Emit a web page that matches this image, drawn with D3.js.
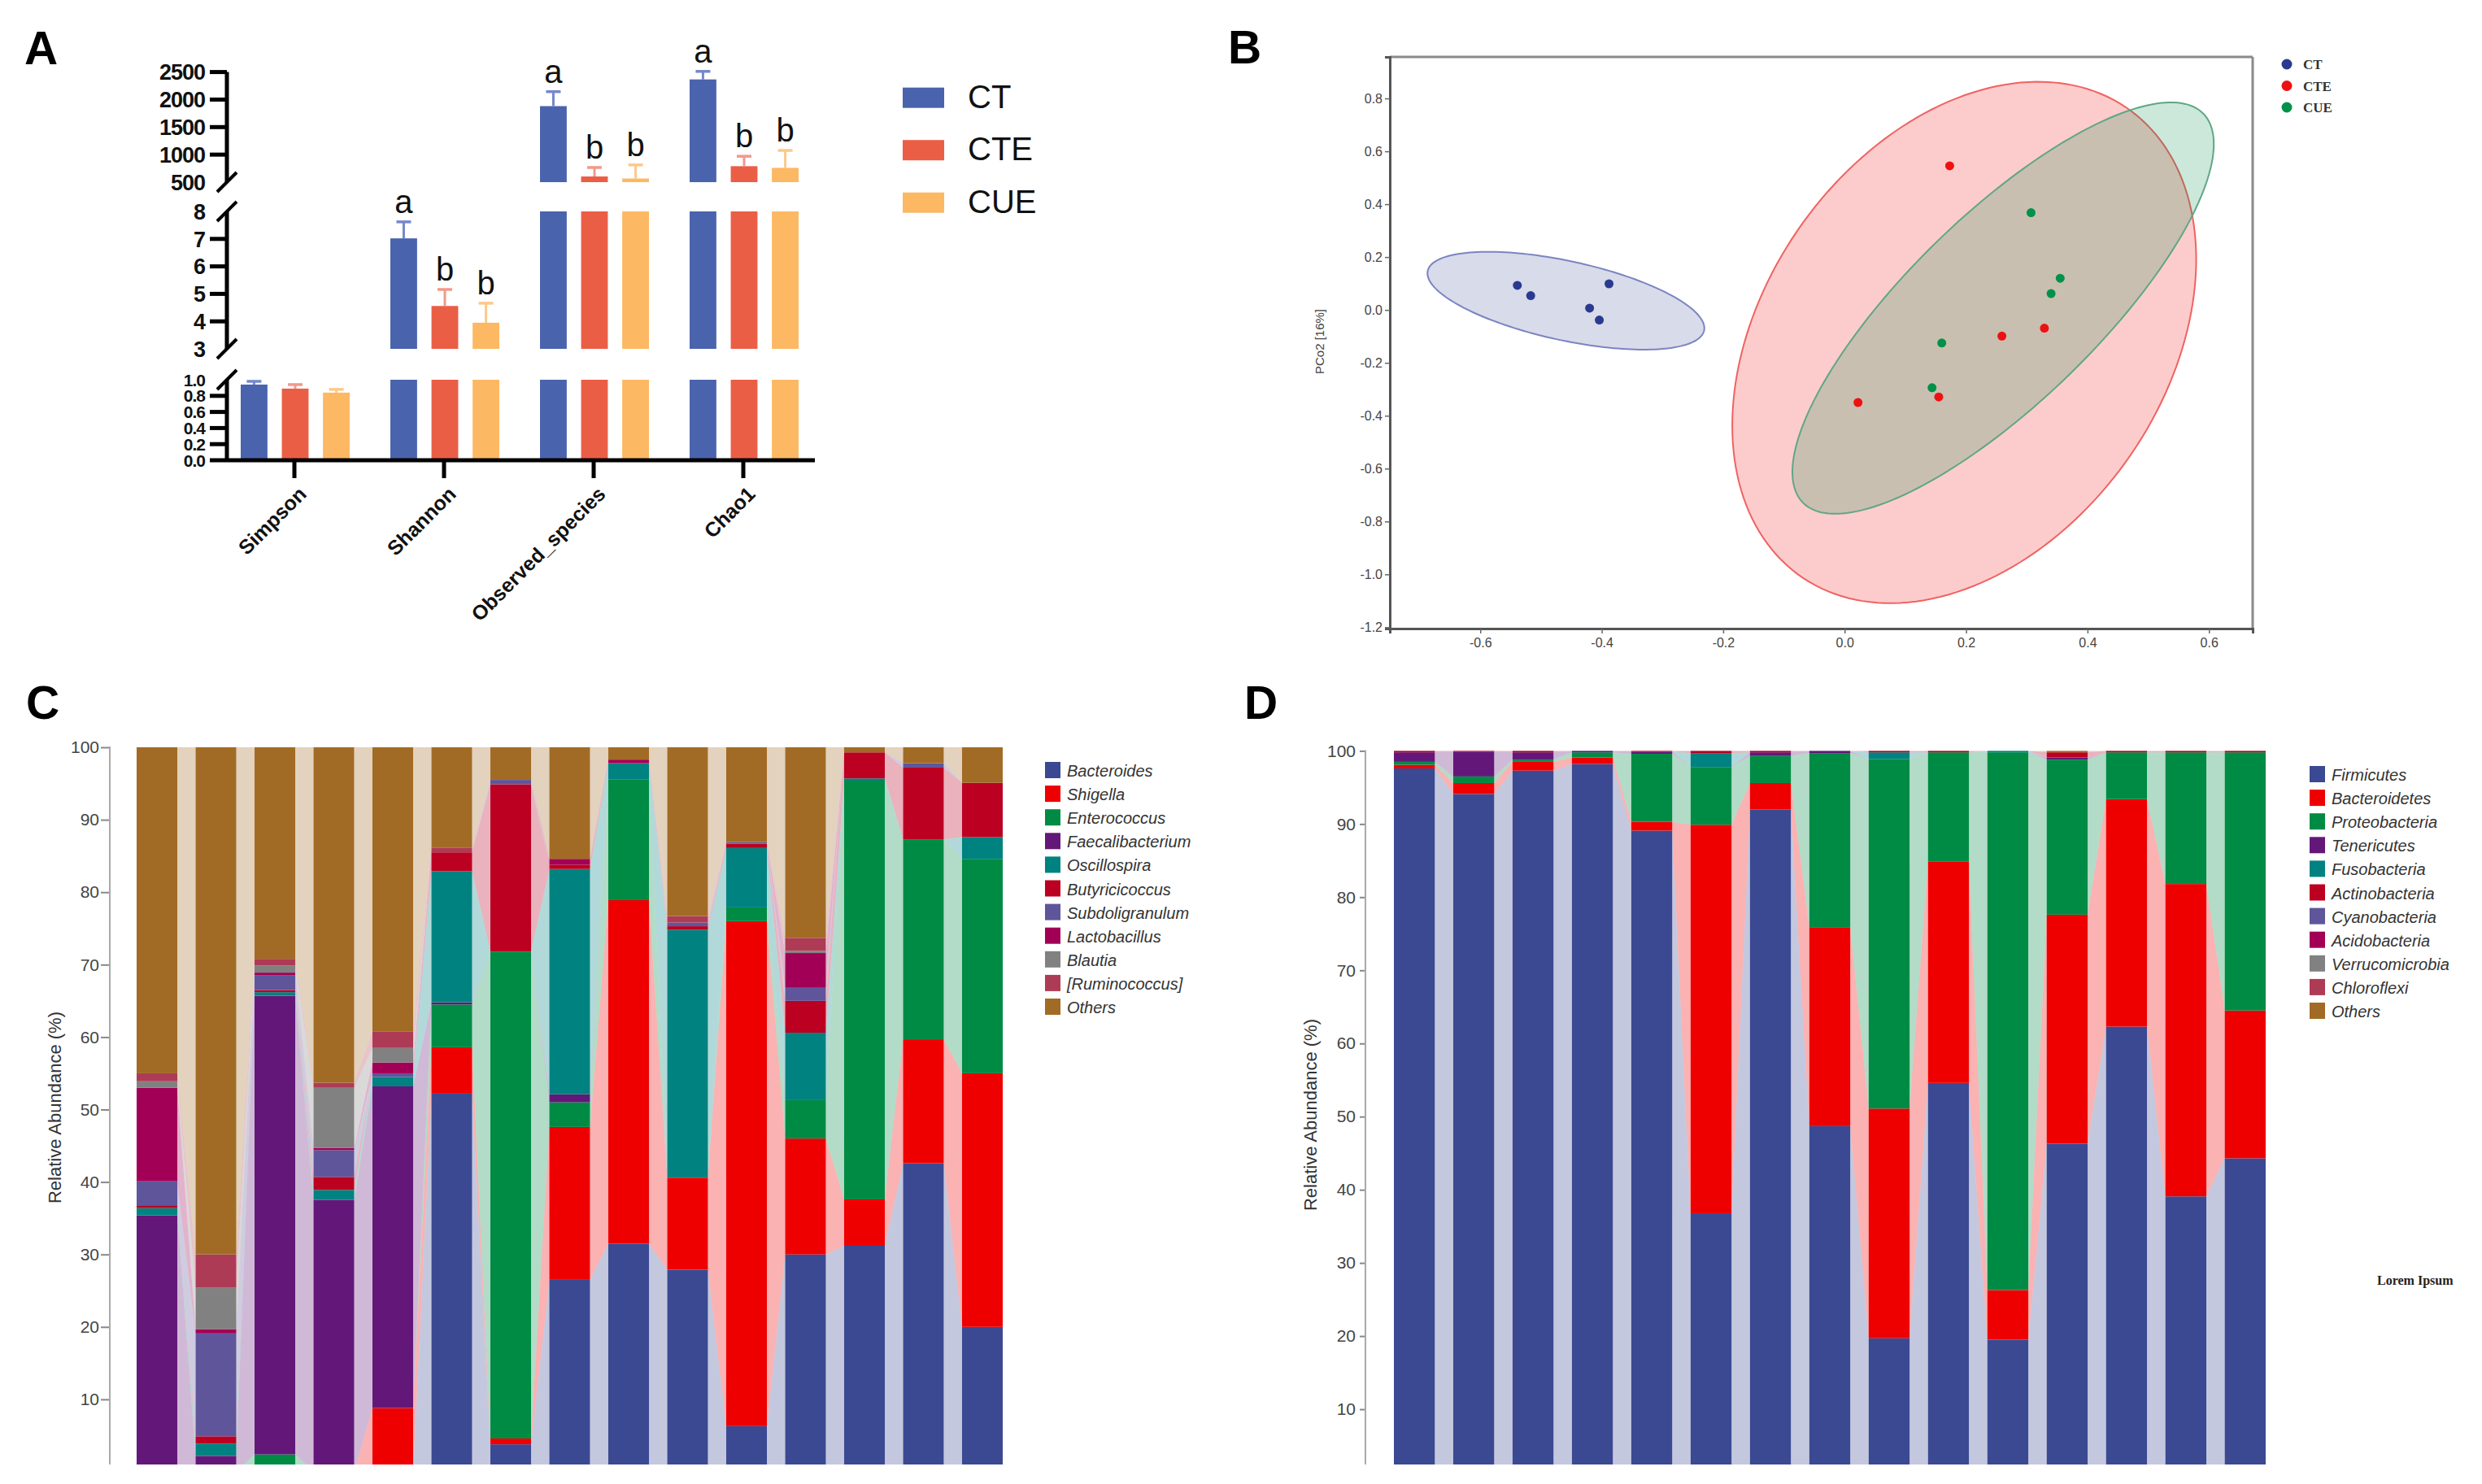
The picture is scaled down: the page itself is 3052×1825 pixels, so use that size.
<!DOCTYPE html>
<html><head><meta charset="utf-8">
<script src="https://cdn.jsdelivr.net/npm/d3@7/dist/d3.min.js"></script>
<style>body{margin:0;background:#fff;} svg{display:block;}</style>
</head><body>
<svg id="fig" width="3052" height="1825"></svg>
<script>
// ---------------- DATA ----------------
// Panel A: alpha diversity
const aMetrics = ["Simpson", "Shannon", "Observed_species", "Chao1"];
const aGroups = ["CT", "CTE", "CUE"];
const aMeanCT  = [0.94, 7.02, 1881, 2366];
const aSdCT    = [0.04, 0.60, 263, 146];
const aMeanCTE = [0.89, 4.56, 603, 790];
const aSdCTE   = [0.05, 0.60, 163, 180];
const aMeanCUE = [0.84, 3.95, 566, 760];
const aSdCUE   = [0.04, 0.71, 247, 316];
const aLetterCT  = ["", "a", "a", "a"];
const aLetterCTE = ["", "b", "b", "b"];
const aLetterCUE = ["", "b", "b", "b"];
const aTicksLow  = [0, 0.2, 0.4, 0.6, 0.8, 1.0];
const aTicksMid  = [3, 4, 5, 6, 7, 8];
const aTicksHigh = [500, 1000, 1500, 2000, 2500];

// Panel B: PCoA
const pcoaGroups = ["CT", "CTE", "CUE"];
const pcoaCTx  = [-0.539, -0.517, -0.388, -0.420, -0.404];
const pcoaCTy  = [0.093, 0.054, 0.099, 0.007, -0.038];
const pcoaCTEx = [0.173, 0.259, 0.329, 0.155, 0.022];
const pcoaCTEy = [0.545, -0.099, -0.069, -0.329, -0.350];
const pcoaCUEx = [0.307, 0.355, 0.340, 0.160, 0.144];
const pcoaCUEy = [0.368, 0.120, 0.062, -0.125, -0.294];
const ellCenterX = [-0.459, 0.197, 0.261];
const ellCenterY = [0.035, -0.123, 0.007];
const ellHalfX   = [0.228, 0.382, 0.347];
const ellHalfY   = [0.185, 0.986, 0.778];
const ellCorr    = [-0.561, 0.319, 0.797];
const pcoaXTicks = [-0.6, -0.4, -0.2, 0.0, 0.2, 0.4, 0.6];
const pcoaYTicks = [-1.2, -1.0, -0.8, -0.6, -0.4, -0.2, 0.0, 0.2, 0.4, 0.6, 0.8];
const pcoaYLabel = "PCo2 [16%]";

// Panel C: genus level
const samples = ["S1","S2","S3","S4","S5","S6","S7","S8","S9","S10","S11","S12","S13","S14","S15"];
const genusNames = ["Bacteroides","Shigella","Enterococcus","Faecalibacterium","Oscillospira","Butyricicoccus","Subdoligranulum","Lactobacillus","Blautia","[Ruminococcus]","Others"];
const gBacteroides      = [0, 0, 0, 0, 0, 52.2, 3.8, 26.5, 31.5, 27.9, 6.3, 30.0, 31.2, 42.6, 20.0];
const gShigella         = [0, 0, 0, 0, 8.8, 6.4, 0.8, 21.1, 47.4, 12.7, 69.7, 16.0, 6.4, 17.1, 35.0];
const gEnterococcus     = [0, 0, 2.4, 0, 0, 5.9, 67.2, 3.4, 16.7, 0, 1.9, 5.3, 57.8, 27.6, 29.6];
const gFaecalibacterium = [35.4, 2.2, 63.3, 37.55, 44.4, 0.3, 0, 1.1, 0, 0, 0, 0, 0, 0, 0];
const gOscillospira     = [1.0, 1.7, 0.5, 1.35, 1.3, 18.1, 0, 31.1, 2.2, 34.2, 8.2, 9.3, 0.3, 0, 3.0];
const gButyricicoccus   = [0.3, 1.0, 0.3, 1.8, 0, 2.6, 23.1, 0.6, 0, 0.5, 0.6, 4.4, 3.6, 9.9, 7.5];
const gSubdoligranulum  = [3.4, 14.2, 2.0, 3.7, 0.5, 0, 0.6, 0, 0, 0.5, 0.2, 1.8, 0, 0.6, 0];
const gLactobacillus    = [12.9, 0.6, 0.4, 0.3, 1.5, 0, 0, 0.8, 0.5, 0, 0, 4.8, 0, 0, 0];
const gBlautia          = [0.9, 5.7, 1.0, 8.3, 2.0, 0, 0, 0, 0, 0, 0, 0.3, 0, 0, 0];
const gRuminococcus     = [1.1, 4.6, 0.9, 0.7, 2.3, 0.6, 0, 0, 0, 0.9, 0, 1.8, 0, 0, 0];
const gOthers           = [45.0, 70.0, 29.2, 46.3, 39.2, 13.9, 4.5, 15.4, 1.7, 23.3, 13.1, 26.3, 0.7, 2.2, 4.9];

// Panel D: phylum level
const phylumNames = ["Firmicutes","Bacteroidetes","Proteobacteria","Tenericutes","Fusobacteria","Actinobacteria","Cyanobacteria","Acidobacteria","Verrucomicrobia","Chloroflexi","Others"];
const pFirmicutes      = [97.6, 94.1, 97.3, 98.2, 89.1, 36.8, 92.0, 48.7, 19.7, 54.6, 19.5, 46.3, 62.3, 39.1, 44.3];
const pBacteroidetes   = [0.5, 1.5, 1.2, 0.9, 1.2, 53.1, 3.6, 27.2, 31.4, 30.3, 6.8, 31.3, 31.1, 42.7, 20.2];
const pProteobacteria  = [0.4, 0.9, 0.3, 0.7, 9.3, 7.9, 3.7, 23.8, 47.8, 14.9, 73.5, 21.2, 6.4, 18.0, 35.3];
const pTenericutes     = [1.3, 3.4, 1.0, 0.2, 0.3, 0, 0.5, 0.3, 0, 0, 0, 0.3, 0, 0, 0];
const pFusobacteria    = [0, 0, 0, 0, 0, 1.9, 0, 0, 0.9, 0, 0.2, 0, 0, 0, 0];
const pActinobacteria  = [0.2, 0.1, 0.2, 0, 0.1, 0.3, 0.2, 0, 0.2, 0.2, 0, 0.7, 0.2, 0.2, 0.2];
const pCyanobacteria   = [0, 0, 0, 0, 0, 0, 0, 0, 0, 0, 0, 0, 0, 0, 0];
const pAcidobacteria   = [0, 0, 0, 0, 0, 0, 0, 0, 0, 0, 0, 0, 0, 0, 0];
const pVerrucomicrobia = [0, 0, 0, 0, 0, 0, 0, 0, 0, 0, 0, 0, 0, 0, 0];
const pChloroflexi     = [0, 0, 0, 0, 0, 0, 0, 0, 0, 0, 0, 0, 0, 0, 0];
const pOthers          = [0, 0, 0, 0, 0, 0, 0, 0, 0, 0, 0, 0.2, 0, 0, 0];
const abundTicks = [10, 20, 30, 40, 50, 60, 70, 80, 90, 100];

// ---------------- DRAWING ----------------
const svg = d3.select("#fig");
const SANS = "'Liberation Sans', Arial, Helvetica, sans-serif";
const SERIF = "'Liberation Serif', 'Times New Roman', serif";

// panel letters
[["A", 30, 79], ["B", 1510, 78], ["C", 32, 884], ["D", 1530, 884]].forEach(([t, x, y]) => {
  svg.append("text").attr("x", x).attr("y", y).text(t)
    .attr("font-family", SANS).attr("font-weight", "bold").attr("font-size", 57).attr("fill", "#000");
});

// ===== Panel A =====
(function () {
  const g = svg.append("g");
  const axisX = 279;
  const segs = [
    { sc: d3.scaleLinear().domain([0, 1]).range([566, 467]), ticks: aTicksLow, fmt: d => d.toFixed(1), fs: 21 },
    { sc: d3.scaleLinear().domain([3, 8]).range([429, 260]), ticks: aTicksMid, fmt: d => String(d), fs: 27 },
    { sc: d3.scaleLinear().domain([500, 2500]).range([224, 88.6]), ticks: aTicksHigh, fmt: d => String(d), fs: 27 }
  ];
  const xOuter = d3.scaleBand().domain(aMetrics).range([270, 1006]);
  const xInner = d3.scaleBand().domain(aGroups).range([26, 160]).paddingInner(0.35);
  const fill = { CT: "#4a63ad", CTE: "#eb5e46", CUE: "#fdb864" };
  const errC = { CT: "#7488cc", CTE: "#f2998b", CUE: "#fdc98a" };
  const means = { CT: aMeanCT, CTE: aMeanCTE, CUE: aMeanCUE };
  const sds = { CT: aSdCT, CTE: aSdCTE, CUE: aSdCUE };
  const letters = { CT: aLetterCT, CTE: aLetterCTE, CUE: aLetterCUE };

  aMetrics.forEach((m, mi) => {
    aGroups.forEach(gr => {
      const v = means[gr][mi], sd = sds[gr][mi];
      const x0 = xOuter(m) + xInner(gr), bw = xInner.bandwidth();
      segs.forEach(s => {
        const [d0, d1] = s.sc.domain();
        if (v > d0) {
          const top = Math.min(v, d1);
          g.append("rect").attr("x", x0).attr("width", bw)
            .attr("y", s.sc(top)).attr("height", s.sc(d0) - s.sc(top)).attr("fill", fill[gr]);
        }
      });
      const s = segs.find(s => v >= s.sc.domain()[0] && v <= s.sc.domain()[1] * 1.2) || segs[0];
      const cx = x0 + bw / 2, yv = s.sc(v), ye = s.sc(v + sd);
      g.append("line").attr("x1", cx).attr("x2", cx).attr("y1", yv).attr("y2", ye)
        .attr("stroke", errC[gr]).attr("stroke-width", 3);
      g.append("line").attr("x1", cx - 9).attr("x2", cx + 9).attr("y1", ye).attr("y2", ye)
        .attr("stroke", errC[gr]).attr("stroke-width", 3.5);
      if (letters[gr][mi]) {
        g.append("text").attr("x", cx).attr("y", ye - 11).attr("text-anchor", "middle")
          .attr("font-family", SANS).attr("font-size", 40).attr("fill", "#111").text(letters[gr][mi]);
      }
    });
  });

  // y axis segments
  segs.forEach((s, i) => {
    const [r0, r1] = s.sc.range();
    g.append("line").attr("x1", axisX).attr("x2", axisX).attr("y1", i === 0 ? r0 + 2 : r0).attr("y2", r1)
      .attr("stroke", "#000").attr("stroke-width", 5);
    s.ticks.forEach((t, ti) => {
      const y = s.sc(t);
      const isBreak = (i === 0 && ti === s.ticks.length - 1) || (i > 0 && ti === 0) || (i === 1 && ti === s.ticks.length - 1);
      if (!isBreak && !(i === 0 && ti === 0)) {
        g.append("line").attr("x1", 258).attr("x2", axisX).attr("y1", y).attr("y2", y)
          .attr("stroke", "#000").attr("stroke-width", 5);
      }
      g.append("text").attr("x", 252).attr("y", y).attr("dy", "0.36em").attr("text-anchor", "end")
        .attr("font-family", SANS).attr("font-weight", "bold").attr("font-size", s.fs).attr("fill", "#111")
        .attr("letter-spacing", -1).text(s.fmt(t));
    });
  });
  // break slashes
  [segs[0].sc(1), segs[1].sc(3), segs[1].sc(8), segs[2].sc(500)].forEach(y => {
    g.append("line").attr("x1", axisX - 12).attr("x2", axisX + 12).attr("y1", y + 12).attr("y2", y - 12)
      .attr("stroke", "#000").attr("stroke-width", 4);
  });
  // x axis
  g.append("line").attr("x1", 258).attr("x2", 1002).attr("y1", 566).attr("y2", 566)
    .attr("stroke", "#000").attr("stroke-width", 5);
  aMetrics.forEach(m => {
    const cx = xOuter(m) + xOuter.bandwidth() / 2;
    g.append("line").attr("x1", cx).attr("x2", cx).attr("y1", 566).attr("y2", 588)
      .attr("stroke", "#000").attr("stroke-width", 5);
    g.append("text").attr("transform", `translate(${cx + 10},${603}) rotate(-45)`)
      .attr("text-anchor", "end").attr("dy", "0.35em")
      .attr("font-family", SANS).attr("font-weight", "bold").attr("font-size", 25).attr("fill", "#111").text(m);
  });
  // legend
  aGroups.forEach((gr, i) => {
    const y = 107.7 + i * 64.5;
    g.append("rect").attr("x", 1110).attr("y", y).attr("width", 51).attr("height", 25).attr("fill", fill[gr]);
    g.append("text").attr("x", 1190).attr("y", y + 25).attr("font-family", SANS).attr("font-size", 40)
      .attr("fill", "#111").text(gr);
  });
})();

// ===== Panel B =====
(function () {
  const g = svg.append("g");
  const L = 1709, R = 2770, T = 70, B = 773;
  const x = d3.scaleLinear().domain([-0.749, 0.672]).range([L, R]);
  const y = d3.scaleLinear().domain([-1.205, 0.957]).range([B, T]);
  const col = { CT: "#2b3a90", CTE: "#ee1111", CUE: "#00924a" };
  const ellFill = ["#3b4992", "#ee0000", "#008b45"];
  const ellStroke = ["#7c84c2", "#f06262", "#5fa784"];

  const line = d3.line().curve(d3.curveLinearClosed);
  pcoaGroups.forEach((gr, i) => {
    const pts = d3.range(0, 360, 2).map(a => {
      const t = a * Math.PI / 180;
      const dx = ellHalfX[i] * Math.cos(t);
      const dy = ellHalfY[i] * (ellCorr[i] * Math.cos(t) + Math.sqrt(1 - ellCorr[i] * ellCorr[i]) * Math.sin(t));
      return [x(ellCenterX[i] + dx), y(ellCenterY[i] + dy)];
    });
    g.append("path").attr("d", line(pts)).attr("fill", ellFill[i]).attr("fill-opacity", 0.2)
      .attr("stroke", ellStroke[i]).attr("stroke-width", 2);
  });
  const pxs = { CT: pcoaCTx, CTE: pcoaCTEx, CUE: pcoaCUEx };
  const pys = { CT: pcoaCTy, CTE: pcoaCTEy, CUE: pcoaCUEy };
  pcoaGroups.forEach(gr => {
    pxs[gr].forEach((vx, j) => {
      g.append("circle").attr("cx", x(vx)).attr("cy", y(pys[gr][j])).attr("r", 5.5).attr("fill", col[gr]);
    });
  });
  g.append("line").attr("x1", L).attr("x2", R).attr("y1", T).attr("y2", T).attr("stroke", "#8a8a8a").attr("stroke-width", 3);
  g.append("line").attr("x1", R).attr("x2", R).attr("y1", T).attr("y2", B).attr("stroke", "#8a8a8a").attr("stroke-width", 3);
  const ax = g.append("g").attr("transform", `translate(0,${B})`)
    .call(d3.axisBottom(x).tickValues(pcoaXTicks).tickSize(6).tickPadding(6).tickFormat(d => d.toFixed(1)));
  const ay = g.append("g").attr("transform", `translate(${L},0)`)
    .call(d3.axisLeft(y).tickValues(pcoaYTicks).tickSize(6).tickPadding(3).tickFormat(d => d.toFixed(1)));
  [ax, ay].forEach(a => {
    a.select(".domain").attr("stroke", "#555").attr("stroke-width", 3);
    a.selectAll(".tick line").attr("stroke", "#666").attr("stroke-width", 1.5);
    a.selectAll(".tick text").attr("font-family", "'Liberation Sans Narrow', " + SANS).attr("font-size", 16).attr("fill", "#444");
  });
  g.append("text").attr("transform", `translate(1628,420) rotate(-90)`).attr("text-anchor", "middle")
    .attr("font-family", SANS).attr("font-size", 15).attr("fill", "#444").text(pcoaYLabel);
  pcoaGroups.forEach((gr, i) => {
    const yy = 79 + i * 26.5;
    g.append("circle").attr("cx", 2812).attr("cy", yy).attr("r", 6.5).attr("fill", col[gr]);
    g.append("text").attr("x", 2832).attr("y", yy + 6).attr("font-family", SERIF).attr("font-weight", "bold")
      .attr("font-size", 17).attr("fill", "#333").text(gr);
  });
})();

// ===== Panels C & D =====
const stackPalette = ["#3B4992", "#EE0000", "#008B45", "#631879", "#008280", "#BB0021", "#5F559B", "#A20056", "#808180", "#AE3B55", "#A26B25"];

function drawStack(cfg) {
  const g = svg.append("g");
  const x = d3.scaleBand().domain(samples).range([cfg.x0, cfg.x1]).paddingInner(cfg.pad);
  const y = d3.scaleLinear().domain([0, 100]).range([cfg.y0, cfg.y100]);
  const bw = x.bandwidth();
  const clipId = "clip" + cfg.id;
  svg.append("clipPath").attr("id", clipId).append("rect")
    .attr("x", cfg.x0 - 5).attr("y", cfg.y100 - 2).attr("width", cfg.x1 - cfg.x0 + 10).attr("height", cfg.yBottom - cfg.y100 + 2);
  const cg = g.append("g").attr("clip-path", `url(#${clipId})`);
  const cum = samples.map((s, i) => {
    let acc = 0;
    return cfg.series.map(arr => { const lo = acc; acc += arr[i]; return [lo, acc]; });
  });
  for (let i = 0; i < samples.length - 1; i++) {
    cfg.series.forEach((arr, k) => {
      if (arr[i] === 0 && arr[i + 1] === 0) return;
      const a = cum[i][k], b = cum[i + 1][k];
      const xa = x(samples[i]) + bw, xb = x(samples[i + 1]);
      const pts = [[xa, y(a[0])], [xa, y(Math.min(a[1], 100))], [xb, y(Math.min(b[1], 100))], [xb, y(b[0])]];
      cg.append("path").attr("d", "M" + pts.map(p => p.join(",")).join("L") + "Z")
        .attr("fill", stackPalette[k]).attr("fill-opacity", 0.3);
    });
  }
  samples.forEach((s, i) => {
    cfg.series.forEach((arr, k) => {
      if (arr[i] <= 0) return;
      const [lo, hi] = cum[i][k];
      cg.append("rect").attr("x", x(s)).attr("width", bw)
        .attr("y", y(Math.min(hi, 100))).attr("height", y(lo) - y(Math.min(hi, 100)))
        .attr("fill", stackPalette[k]);
    });
  });
  const ay = g.append("g").attr("transform", `translate(${cfg.axisX},0)`)
    .call(d3.axisLeft(y).tickValues(abundTicks).tickSize(cfg.tickSize).tickPadding(cfg.tickPad));
  ay.select(".domain").remove();
  ay.selectAll(".tick line").attr("stroke", "#888").attr("stroke-width", 2);
  ay.selectAll(".tick text").attr("font-family", SANS).attr("font-size", 21).attr("fill", "#444");
  g.append("line").attr("x1", cfg.axisX).attr("x2", cfg.axisX).attr("y1", y(100) - 1).attr("y2", cfg.yBottom)
    .attr("stroke", "#aaa").attr("stroke-width", 2);
  g.append("text").attr("transform", `translate(${cfg.labelX},${cfg.labelY}) rotate(-90)`)
    .attr("text-anchor", "middle").attr("font-family", SANS).attr("font-size", 22).attr("fill", "#333")
    .text("Relative Abundance (%)");
  cfg.names.forEach((n, k) => {
    const yy = cfg.legY + k * 29.1;
    g.append("rect").attr("x", cfg.legX).attr("y", yy).attr("width", 19).attr("height", 20)
      .attr("fill", stackPalette[k]);
    g.append("text").attr("x", cfg.legX + 27).attr("y", yy + 18).attr("font-family", SANS)
      .attr("font-style", "italic").attr("font-size", 20).attr("fill", "#333").text(n);
  });
}

drawStack({
  id: "C", x0: 168, x1: 1233, pad: 0.31, y0: 1810, y100: 919, yBottom: 1801,
  axisX: 135, tickSize: 11, tickPad: 2, labelX: 75, labelY: 1362,
  series: [gBacteroides, gShigella, gEnterococcus, gFaecalibacterium, gOscillospira, gButyricicoccus,
           gSubdoligranulum, gLactobacillus, gBlautia, gRuminococcus, gOthers],
  names: genusNames, legX: 1285, legY: 937
});
drawStack({
  id: "D", x0: 1714, x1: 2786, pad: 0.31, y0: 1823, y100: 923.4, yBottom: 1801,
  axisX: 1679, tickSize: 7, tickPad: 5, labelX: 1619, labelY: 1371,
  series: [pFirmicutes, pBacteroidetes, pProteobacteria, pTenericutes, pFusobacteria, pActinobacteria,
           pCyanobacteria, pAcidobacteria, pVerrucomicrobia, pChloroflexi, pOthers],
  names: phylumNames, legX: 2840, legY: 942
});

svg.append("text").attr("x", 2923).attr("y", 1580).attr("font-family", SERIF).attr("font-weight", "bold")
  .attr("font-size", 16).attr("fill", "#222").text("Lorem Ipsum");
</script>
</body></html>
